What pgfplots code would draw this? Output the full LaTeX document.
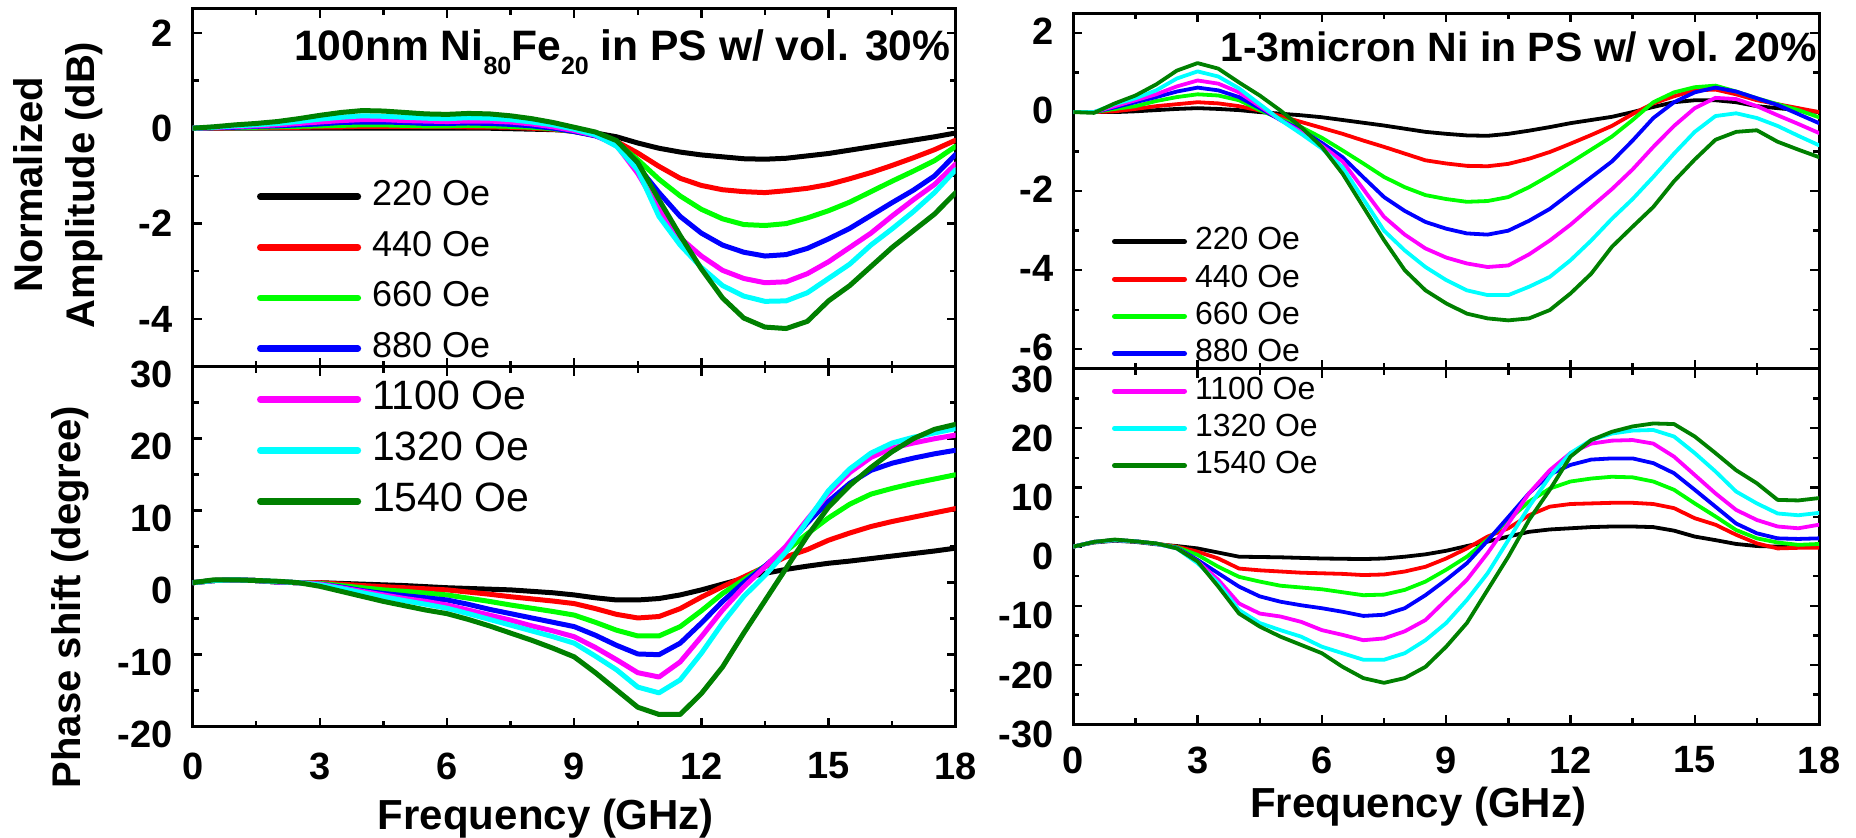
\documentclass[border=0pt]{standalone}
\usepackage{fontspec}
\setmainfont{Liberation Sans}
\usepackage{pgfplots}
\usepackage{pgfplotstable}
\pgfplotsset{compat=1.18}
\definecolor{cK}{RGB}{0,0,0}
\definecolor{cR}{RGB}{255,0,0}
\definecolor{cG}{RGB}{0,255,0}
\definecolor{cB}{RGB}{0,0,255}
\definecolor{cM}{RGB}{255,0,255}
\definecolor{cC}{RGB}{0,255,255}
\definecolor{cD}{RGB}{0,128,0}

% Left panel: normalized amplitude (dB)
\pgfplotstableread{
x    k     r     g     b     m     c     d
0    0     0     0     0     0     0     0
0.5  0     0     .01   .01   .015  .02   .03
1    0     .01   .01   .02   .035  .05   .07
1.5  0     .01   .02   .04   .05   .07   .10
2    0     .02   .03   .05   .07   .10   .14
2.5  0     .02   .04   .07   .10   .14   .20
3    0     .03   .05   .09   .13   .19   .27
3.5  0     .03   .06   .12   .16   .23   .33
4    0     .04   .07   .13   .18   .26   .37
4.5  0     .04   .07   .13   .18   .25   .36
5    0     .04   .06   .12   .16   .23   .33
5.5  0     .04   .05   .10   .15   .21   .30
6    0     .04   .05   .10   .14   .20   .29
6.5  0     .03   .06   .11   .15   .22   .31
7    0     .03   .05   .10   .15   .21   .30
7.5  -.01  .02   .04   .08   .13   .18   .26
8    -.02  0     .02   .05   .09   .13   .20
8.5  -.03  -.02  -.01  0     .03   .07   .12
9    -.05  -.07  -.07  -.07  -.05  -.02  .02
9.5  -.10  -.15  -.15  -.16  -.15  -.14  -.08
10   -.18  -.28  -.30  -.33  -.36  -.38  -.26
10.5 -.31  -.52  -.66  -.80  -.95  -.88  -.72
11   -.42  -.80  -1.07 -1.35 -1.70 -1.85 -1.50
11.5 -.50  -1.05 -1.42 -1.85 -2.30 -2.45 -2.25
12   -.56  -1.20 -1.70 -2.20 -2.68 -2.92 -2.95
12.5 -.60  -1.29 -1.90 -2.45 -2.98 -3.30 -3.56
13   -.64  -1.33 -2.02 -2.60 -3.15 -3.52 -3.98
13.5 -.65  -1.35 -2.04 -2.68 -3.24 -3.63 -4.17
14   -.63  -1.31 -2.00 -2.65 -3.22 -3.62 -4.20
14.5 -.58  -1.26 -1.88 -2.52 -3.05 -3.45 -4.05
15   -.53  -1.18 -1.73 -2.32 -2.80 -3.15 -3.62
15.5 -.46  -1.06 -1.55 -2.10 -2.50 -2.85 -3.30
16   -.39  -.93  -1.33 -1.83 -2.20 -2.45 -2.90
16.5 -.32  -.78  -1.11 -1.56 -1.84 -2.11 -2.50
17   -.25  -.62  -.90  -1.30 -1.50 -1.75 -2.15
17.5 -.18  -.45  -.68  -1.00 -1.18 -1.35 -1.80
18   -.10  -.25  -.38  -.55  -.75  -.87  -1.35
}\LA

% Left panel: phase shift (degree)
\pgfplotstableread{
x    k     r     g     b     m     c     d
0    0     0     0     0     0     0     0
0.5  .3    .3    .3    .3    .3    .3    .4
1    .4    .4    .4    .4    .4    .4    .4
1.5  .3    .3    .3    .3    .3    .3    .3
2    .1    .1    .1    .1    .1    .15   .2
2.5  0     0     0     0     0     0     0
3    0     0     -.1   -.2   -.2   -.3   -.5
3.5  -.1   -.2   -.4   -.6   -.7   -.8   -1.2
4    -.2   -.4   -.7   -1.1  -1.2  -1.4  -1.9
4.5  -.3   -.55  -1.0  -1.5  -1.7  -1.95 -2.6
5    -.4   -.7   -1.2  -1.8  -2.2  -2.5  -3.2
5.5  -.55  -.85  -1.45 -2.1  -2.6  -3.0  -3.8
6    -.7   -1.0  -1.7  -2.4  -3.1  -3.55 -4.3
6.5  -.8   -1.3  -2.15 -3.0  -3.8  -4.3  -5.1
7    -.9   -1.6  -2.6  -3.7  -4.5  -5.1  -6.0
7.5  -1.0  -1.95 -3.1  -4.3  -5.2  -5.9  -7.0
8    -1.2  -2.25 -3.55 -4.9  -6.0  -6.7  -8.0
8.5  -1.4  -2.55 -4.0  -5.5  -6.7  -7.5  -9.1
9    -1.7  -2.9  -4.5  -6.1  -7.5  -8.4  -10.3
9.5  -2.1  -3.6  -5.5  -7.3  -9.0  -10.2 -12.5
10   -2.4  -4.4  -6.6  -8.7  -10.7 -12.1 -14.9
10.5 -2.4  -4.9  -7.4  -9.9  -12.5 -14.5 -17.3
11   -2.2  -4.7  -7.4  -10.0 -13.1 -15.3 -18.3
11.5 -1.7  -3.6  -6.1  -8.4  -11.0 -13.5 -18.3
12   -1.0  -2.0  -3.9  -5.6  -7.5  -9.8  -15.4
12.5 -.2   -.55  -1.5  -2.6  -3.8  -5.6  -11.7
13   .6    .8    .4    0     -.6   -1.9  -7.0
13.5 1.3   2.2   2.3   2.3   2.2   1.0   -2.5
14   1.85  3.6   4.4   4.9   5.1   4.3   2.0
14.5 2.3   4.6   6.8   8.3   8.8   8.6   6.5
15   2.7   5.9   9.0   11.3  12.4  12.8  10.5
15.5 3.0   6.9   10.9  13.8  15.3  15.8  13.5
16   3.35  7.8   12.3  15.6  17.4  18.0  16.0
16.5 3.7   8.5   13.1  16.6  18.7  19.4  18.2
17   4.05  9.1   13.8  17.3  19.4  20.2  20.0
17.5 4.4   9.7   14.4  17.9  20.0  20.8  21.3
18   4.8   10.3  15.0  18.4  20.5  21.4  22.0
}\LP

% Right panel: normalized amplitude (dB)
\pgfplotstableread{
x    k     r     g     b     m     c     d
0    0     0     0     0     0     0     0
0.5  0     0     0     0     0     0     -.02
1    0     .02   .08   .12   .15   .20   .22
1.5  .02   .08   .15   .25   .30   .35   .42
2    .05   .15   .28   .38   .45   .55   .70
2.5  .08   .20   .38   .52   .65   .85   1.05
3    .10   .25   .45   .62   .80   1.03  1.24
3.5  .08   .22   .42   .55   .72   .90   1.10
4    .05   .15   .30   .38   .50   .60   .75
4.5  0     .04   .05   .10   .15   .20   .42
5    -.04  -.10  -.17  -.20  -.20  -.20  .04
5.5  -.08  -.25  -.38  -.45  -.50  -.55  -.38
6    -.13  -.40  -.65  -.78  -.85  -.92  -.88
6.5  -.20  -.55  -.97  -1.14 -1.25 -1.40 -1.56
7    -.27  -.72  -1.30 -1.65 -1.95 -2.20 -2.40
7.5  -.34  -.88  -1.64 -2.15 -2.65 -3.00 -3.24
8    -.42  -1.05 -1.90 -2.50 -3.10 -3.50 -4.00
8.5  -.50  -1.22 -2.10 -2.78 -3.45 -3.92 -4.51
9    -.55  -1.30 -2.20 -2.95 -3.68 -4.25 -4.84
9.5  -.59  -1.36 -2.27 -3.07 -3.83 -4.51 -5.10
10   -.60  -1.37 -2.25 -3.10 -3.92 -4.63 -5.22
10.5 -.55  -1.31 -2.15 -3.00 -3.88 -4.63 -5.27
11   -.47  -1.18 -1.90 -2.75 -3.60 -4.42 -5.22
11.5 -.38  -1.01 -1.60 -2.45 -3.25 -4.17 -5.01
12   -.28  -.80  -1.28 -2.05 -2.85 -3.75 -4.59
12.5 -.20  -.58  -.95  -1.65 -2.40 -3.25 -4.09
13   -.12  -.35  -.62  -1.25 -1.95 -2.70 -3.41
13.5 0     -.05  -.20  -.72  -1.45 -2.20 -2.90
14   .13   .22   .25   -.15  -.88  -1.64 -2.40
14.5 .25   .40   .50   .25   -.35  -1.05 -1.75
15   .30   .55   .63   .50   .10   -.50  -1.20
15.5 .30   .57   .67   .62   .36   -.10  -.70
16   .25   .45   .52   .52   .33   -.03  -.50
16.5 .15   .30   .35   .35   .15   -.15  -.46
17   .10   .20   .20   .18   -.08  -.35  -.75
17.5 .05   .10   .05   -.05  -.30  -.60  -.95
18   0     0     -.13  -.28  -.53  -.84  -1.14
}\RA

% Right panel: phase shift (degree)
\pgfplotstableread{
x    k     r     g     b     m     c     d
0    0     0     0     0     0     0     0
0.5  .7    .8    .8    .8    .8    .8    .8
1    1.0   1.1   1.1   1.1   1.1   1.1   1.2
1.5  .8    .9    .9    .9    .9    .9    .9
2    .4    .5    .5    .5    .5    .5    .55
2.5  .1    0     -.1   -.2   -.3   -.3   -.3
3    -.3   -.85  -1.4  -2.25 -2.5  -2.8  -2.5
3.5  -1.0  -2.0  -3.4  -4.5  -5.6  -6.2  -6.75
4    -1.7  -3.7  -5.1  -6.75 -9.6  -10.7 -11.3
4.5  -1.75 -4.0  -5.9  -8.4  -11.3 -12.9 -13.5
5    -1.8  -4.2  -6.6  -9.3  -11.8 -14.1 -15.2
5.5  -1.9  -4.4  -6.9  -9.9  -12.7 -15.2 -16.6
6    -2.0  -4.5  -7.2  -10.4 -14.1 -16.9 -18.0
6.5  -2.05 -4.6  -7.7  -11.0 -14.9 -18.0 -20.3
7    -2.1  -4.8  -8.2  -11.7 -15.8 -19.1 -22.2
7.5  -2.0  -4.7  -8.1  -11.5 -15.5 -19.1 -23.0
8    -1.7  -4.2  -7.3  -10.4 -14.3 -18.0 -22.2
8.5  -1.3  -3.4  -5.9  -8.2  -12.4 -15.8 -20.3
9    -.7   -2.0  -3.9  -5.6  -9.0  -12.9 -16.9
9.5  .1    -.3   -1.7  -2.8  -5.6  -9.0  -12.9
10   .85   1.7   1.2   1.0   -1.1  -4.5  -7.3
10.5 1.7   3.1   4.5   5.0   3.9   1.1   -1.7
11   2.5   5.3   7.6   9.0   9.0   6.75  4.5
11.5 2.9   6.75  9.8   12.2  12.9  11.8  9.6
12   3.1   7.2   11.0  13.8  15.8  15.8  15.2
12.5 3.3   7.3   11.5  14.7  17.4  18.0  18.0
13   3.4   7.4   11.8  14.9  17.9  19.1  19.4
13.5 3.4   7.4   11.7  14.9  18.0  19.6  20.3
14   3.3   7.2   11.0  14.1  17.4  19.7  20.8
14.5 2.7   6.5   9.6   12.4  15.2  18.6  20.7
15   1.7   4.8   7.3   9.6   12.1  15.8  18.6
15.5 1.1   3.7   5.1   6.75  9.0   12.7  15.8
16   .45   2.0   2.8   3.9   6.2   9.3   12.9
16.5 .1    .55   1.4   2.25  4.5   7.3   10.7
17   0     -.3   .7    1.4   3.4   5.6   7.9
17.5 0     -.2   .3    1.3   3.1   5.3   7.8
18   0     -.2   .45   1.4   3.7   5.7   8.2
}\RP

\pgfplotsset{
  panel/.style={
    scale only axis, anchor=south west,
    xmin=0, xmax=18, xtick={0,3,...,18},
    minor x tick num=1, minor y tick num=1,
    tick align=inside,
    axis line style={line width=1.5pt},
    every tick/.style={line width=1.2pt, black},
    major tick length=4.5pt, minor tick length=3pt,
    /pgf/number format/assume math mode=true,
    tick label style={font=\bfseries\fontsize{19}{19}\selectfont},
    yticklabel style={inner sep=0pt, xshift=-9.8pt},
    xticklabel style={inner sep=0pt, anchor=north},
    clip=true,
  },
  lw/.style={line width=#1, line join=round, line cap=round, mark=none},
}

\newcommand{\curves}[2]{%
  \addplot[cK, lw=#2, forget plot] table[x=x,y=k] {#1};
  \addplot[cR, lw=#2, forget plot] table[x=x,y=r] {#1};
  \addplot[cG, lw=#2, forget plot] table[x=x,y=g] {#1};
  \addplot[cB, lw=#2, forget plot] table[x=x,y=b] {#1};
  \addplot[cM, lw=#2, forget plot] table[x=x,y=m] {#1};
  \addplot[cC, lw=#2, forget plot] table[x=x,y=c] {#1};
  \addplot[cD, lw=#2, forget plot] table[x=x,y=d] {#1};
}

\begin{document}
\begin{tikzpicture}
\path[use as bounding box] (0pt,0pt) rectangle (928pt,419pt);

% ---------- Left top ----------
\begin{axis}[panel, at={(96.35pt,235.65pt)}, width=381.5pt, height=178.85pt,
  ymin=-5, ymax=2.5, ytick={-4,-2,0,2}, xticklabels={},
  legend style={at={(0.0843,0.520)}, anchor=north west, draw=none, fill=none,
    inner sep=0pt, outer sep=0pt, font=\fontsize{18}{18}\selectfont,
    row sep=9.3pt,
    nodes={inner sep=0pt, text height=12.5pt, text depth=3.5pt},
    /tikz/every odd column/.append style={column sep=5.5pt}},
  legend cell align=left,
  legend image code/.code={\draw[#1, line cap=round] (1.6pt,0pt) -- (50.4pt,0pt);},
]
\curves{\LA}{2.5pt}
\addlegendimage{cK, line width=3.25pt}\addlegendentry{220 Oe}
\addlegendimage{cR, line width=3.25pt}\addlegendentry{440 Oe}
\addlegendimage{cG, line width=3.25pt}\addlegendentry{660 Oe}
\addlegendimage{cB, line width=3.25pt}\addlegendentry{880 Oe}
\node[anchor=base east, inner sep=0pt, font=\bfseries\fontsize{21.3}{21.3}\selectfont]
  at ([xshift=-2.5pt,yshift=-26pt]rel axis cs:1,1)
  {100nm Ni\raisebox{-7pt}{\fontsize{12.5}{12.5}\selectfont 80}Fe\raisebox{-7pt}{\fontsize{12.5}{12.5}\selectfont 20} in PS w/ vol. 30\%};
\end{axis}

% ---------- Left bottom ----------
\begin{axis}[panel, at={(96.35pt,55.65pt)}, width=381.5pt, height=180pt,
  ymin=-20, ymax=30, ytick={-20,-10,0,10,20,30},
  yticklabel style={yshift=-4pt},
  xticklabel style={yshift=-12.75pt},
  legend style={at={(0.0843,0.959)}, anchor=north west, draw=none, fill=none,
    inner sep=0pt, outer sep=0pt, font=\fontsize{20.5}{20.5}\selectfont,
    row sep=7.5pt,
    nodes={inner sep=0pt, text height=14pt, text depth=4pt},
    /tikz/every odd column/.append style={column sep=5.5pt}},
  legend cell align=left,
  legend image code/.code={\draw[#1, line cap=round] (1.6pt,0pt) -- (50.4pt,0pt);},
]
\curves{\LP}{2.5pt}
\addlegendimage{cM, line width=3.25pt}\addlegendentry{1100 Oe}
\addlegendimage{cC, line width=3.25pt}\addlegendentry{1320 Oe}
\addlegendimage{cD, line width=3.25pt}\addlegendentry{1540 Oe}
\end{axis}

% ---------- Right top ----------
\begin{axis}[panel, at={(536.65pt,234.5pt)}, width=372.85pt, height=177.85pt,
  ymin=-6.5, ymax=2.5, ytick={-6,-4,-2,0,2}, xticklabels={},
  yticklabel style={yshift=1pt},
  legend style={at={(0.0519,0.398)}, anchor=north west, draw=none, fill=none,
    inner sep=0pt, outer sep=0pt, font=\fontsize{16}{16}\selectfont,
    row sep=4.25pt,
    nodes={inner sep=0pt, text height=11.2pt, text depth=3.2pt},
    /tikz/every odd column/.append style={column sep=4pt}},
  legend cell align=left,
  legend image code/.code={\draw[#1, line cap=round] (1.25pt,0pt) -- (36.25pt,0pt);},
]
\curves{\RA}{1.9pt}
\addlegendimage{cK, line width=2.5pt}\addlegendentry{220 Oe}
\addlegendimage{cR, line width=2.5pt}\addlegendentry{440 Oe}
\addlegendimage{cG, line width=2.5pt}\addlegendentry{660 Oe}
\addlegendimage{cB, line width=2.5pt}\addlegendentry{880 Oe}
\addlegendimage{cM, line width=2.5pt}\addlegendentry{1100 Oe}
\addlegendimage{cC, line width=2.5pt}\addlegendentry{1320 Oe}
\addlegendimage{cD, line width=2.5pt}\addlegendentry{1540 Oe}
\node[anchor=base east, inner sep=0pt, font=\bfseries\fontsize{20.5}{20.5}\selectfont]
  at ([xshift=-1pt,yshift=-24.2pt]rel axis cs:1,1)
  {1-3micron Ni in PS w/ vol. 20\%};
\end{axis}

% ---------- Right bottom ----------
\begin{axis}[panel, at={(536.65pt,56.85pt)}, width=372.85pt, height=177.65pt,
  ymin=-30, ymax=30, ytick={-30,-20,-10,0,10,20,30},
  yticklabel style={yshift=-5pt},
  xticklabel style={yshift=-11pt},
]
\curves{\RP}{1.9pt}
\end{axis}

% ---------- Axis titles ----------
\node[rotate=90, anchor=center, inner sep=0pt, font=\bfseries\fontsize{20}{20}\selectfont] at (14.25pt,326.5pt) {Normalized};
\node[rotate=90, anchor=center, inner sep=0pt, font=\bfseries\fontsize{20}{20}\selectfont] at (42pt,326.5pt) {Amplitude (dB)};
\node[rotate=90, anchor=center, inner sep=0pt, font=\bfseries\fontsize{20}{20}\selectfont] at (35pt,120.5pt) {Phase shift (degree)};
\node[anchor=base, inner sep=0pt, font=\bfseries\fontsize{21}{21}\selectfont] at (273pt,4pt) {Frequency (GHz)};
\node[anchor=base, inner sep=0pt, font=\bfseries\fontsize{21}{21}\selectfont] at (709pt,10pt) {Frequency (GHz)};
\end{tikzpicture}
\end{document}
